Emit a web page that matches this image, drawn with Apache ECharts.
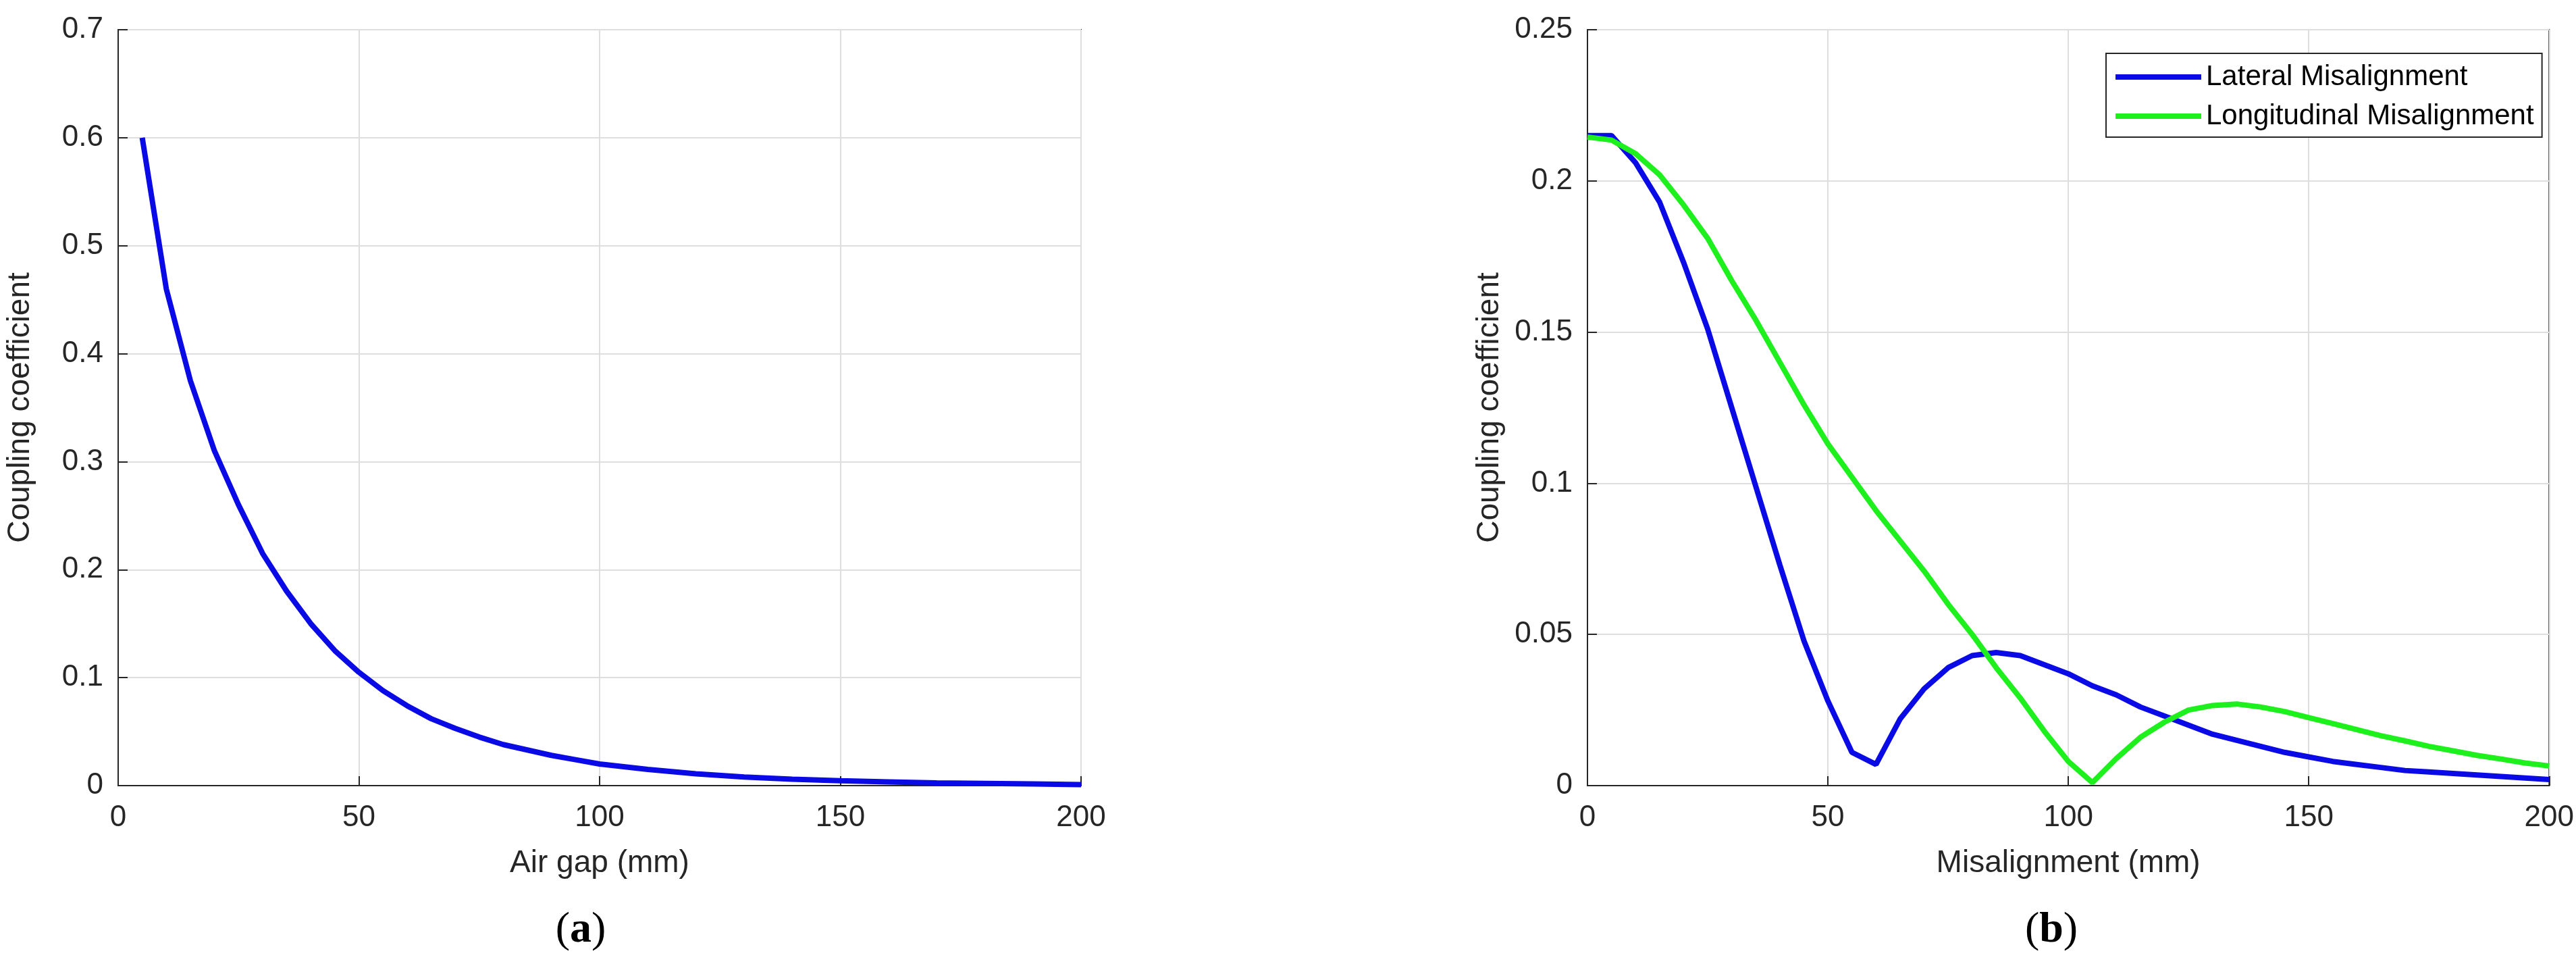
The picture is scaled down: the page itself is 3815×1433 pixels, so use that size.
<!DOCTYPE html>
<html>
<head>
<meta charset="utf-8">
<script src="https://cdn.jsdelivr.net/npm/echarts@6/dist/echarts.min.js"></script>
<style>html,body{margin:0;padding:0;background:#fff}#main{width:3815px;height:1433px}</style>
</head>
<body>
<div id="main"></div>
<script>
// (a) air gap sweep
var gapX = [5,10,15,20,25,30,35,40,45,50,55,60,65,70,75,80,85,90,95,100,110,120,130,140,150,160,170,180,190,200];
var gapK = [0.60,0.46,0.375,0.31,0.26,0.215,0.18,0.15,0.125,0.105,0.088,0.074,0.062,0.053,0.045,0.038,0.033,0.028,0.024,0.020,0.015,0.011,0.008,0.006,0.0045,0.0035,0.0025,0.002,0.0015,0.001];

// (b) misalignment sweep
var misX = [0,5,10,15,20,25,30,35,40,45,50,55,60,65,70,75,80,85,90,95,100,105,110,115,120,125,130,135,140,145,150,155,160,165,170,175,180,185,190,195,200];
var lateralK = [0.215,0.215,0.206,0.193,0.173,0.151,0.125,0.099,0.073,0.048,0.028,0.011,0.007,0.022,0.032,0.039,0.043,0.044,0.043,0.040,0.037,0.033,0.030,0.026,0.023,0.020,0.017,0.015,0.013,0.011,0.0095,0.008,0.007,0.006,0.005,0.0045,0.004,0.0035,0.003,0.0025,0.002];
var longitK = [0.2145,0.2135,0.209,0.202,0.192,0.181,0.167,0.154,0.140,0.126,0.113,0.102,0.091,0.081,0.071,0.060,0.050,0.039,0.029,0.018,0.008,0.001,0.009,0.016,0.021,0.025,0.0265,0.027,0.026,0.0245,0.0225,0.0205,0.0185,0.0165,0.0148,0.013,0.0115,0.010,0.0088,0.0075,0.0065];

function pairs(xs, ys){
    var out = [];
    for(var i = 0; i < xs.length; i++){ out.push([xs[i], ys[i]]); }
    return out;
}

var font = 'Liberation Sans';
var tickColor = '#262626';

function xAx(idx, name){
    return {
        type:'value', gridIndex:idx, min:0, max:200, interval:50, name:name,
        nameLocation:'middle', nameGap:92,
        nameTextStyle:{fontFamily:font, fontSize:46, color:tickColor},
        axisLabel:{fontFamily:font, fontSize:44, color:tickColor, margin:26},
        axisLine:{lineStyle:{color:tickColor, width:2}},
        axisTick:{inside:true, length:14, lineStyle:{color:tickColor, width:2}},
        splitLine:{lineStyle:{color:'#dedede', width:2}}
    };
}
function yAx(idx, max, step){
    return {
        type:'value', gridIndex:idx, min:0, max:max, interval:step, name:'Coupling coefficient',
        nameLocation:'middle', nameGap:122,
        nameTextStyle:{fontFamily:font, fontSize:46, color:tickColor},
        axisLabel:{fontFamily:font, fontSize:44, color:tickColor, margin:22},
        axisLine:{lineStyle:{color:tickColor, width:2}},
        axisTick:{inside:true, length:14, lineStyle:{color:tickColor, width:2}},
        splitLine:{lineStyle:{color:'#dedede', width:2}}
    };
}

var myChart = echarts.init(document.getElementById('main'));
var option = {
    backgroundColor:'#fff',
    animation:false,
    grid:[
        {left:175, width:1426, top:44, height:1119, show:true, borderColor:tickColor, borderWidth:2},
        {left:2351, width:1425, top:44, height:1119, show:true, borderColor:tickColor, borderWidth:2}
    ],
    title:[
        {text:'({a|a})', left:855, top:1340, textAlign:'center',
         textStyle:{fontFamily:'Liberation Serif', fontSize:64, fontWeight:'normal', color:'#000', rich:{a:{fontFamily:'Liberation Serif', fontSize:64, fontWeight:'bold'}}}},
        {text:'({b|b})', left:3033, top:1340, textAlign:'center',
         textStyle:{fontFamily:'Liberation Serif', fontSize:64, fontWeight:'normal', color:'#000', rich:{b:{fontFamily:'Liberation Serif', fontSize:64, fontWeight:'bold'}}}}
    ],
    legend:{
        data:['Lateral Misalignment','Longitudinal Misalignment'],
        orient:'vertical', left:3119, top:79, padding:[14,12,10,14],
        itemWidth:127, itemHeight:8, itemGap:16,
        borderColor:tickColor, borderWidth:2, backgroundColor:'#fff',
        icon:'rect',
        textStyle:{fontFamily:font, fontSize:42, color:'#000', padding:[0,0,0,2]}
    },
    xAxis:[xAx(0,'Air gap (mm)'), xAx(1,'Misalignment (mm)')],
    yAxis:[yAx(0,0.7,0.1), yAx(1,0.25,0.05)],
    series:[
        {name:'Air gap', type:'line', xAxisIndex:0, yAxisIndex:0, data:pairs(gapX,gapK),
         showSymbol:false, lineStyle:{color:'#0a0ae6', width:8}, itemStyle:{color:'#0a0ae6'}},
        {name:'Lateral Misalignment', type:'line', xAxisIndex:1, yAxisIndex:1, data:pairs(misX,lateralK),
         showSymbol:false, lineStyle:{color:'#0a0ae6', width:8}, itemStyle:{color:'#0a0ae6'}},
        {name:'Longitudinal Misalignment', type:'line', xAxisIndex:1, yAxisIndex:1, data:pairs(misX,longitK),
         showSymbol:false, lineStyle:{color:'#1ef01e', width:8}, itemStyle:{color:'#1ef01e'}}
    ]
};
myChart.setOption(option);
</script>
</body>
</html>
